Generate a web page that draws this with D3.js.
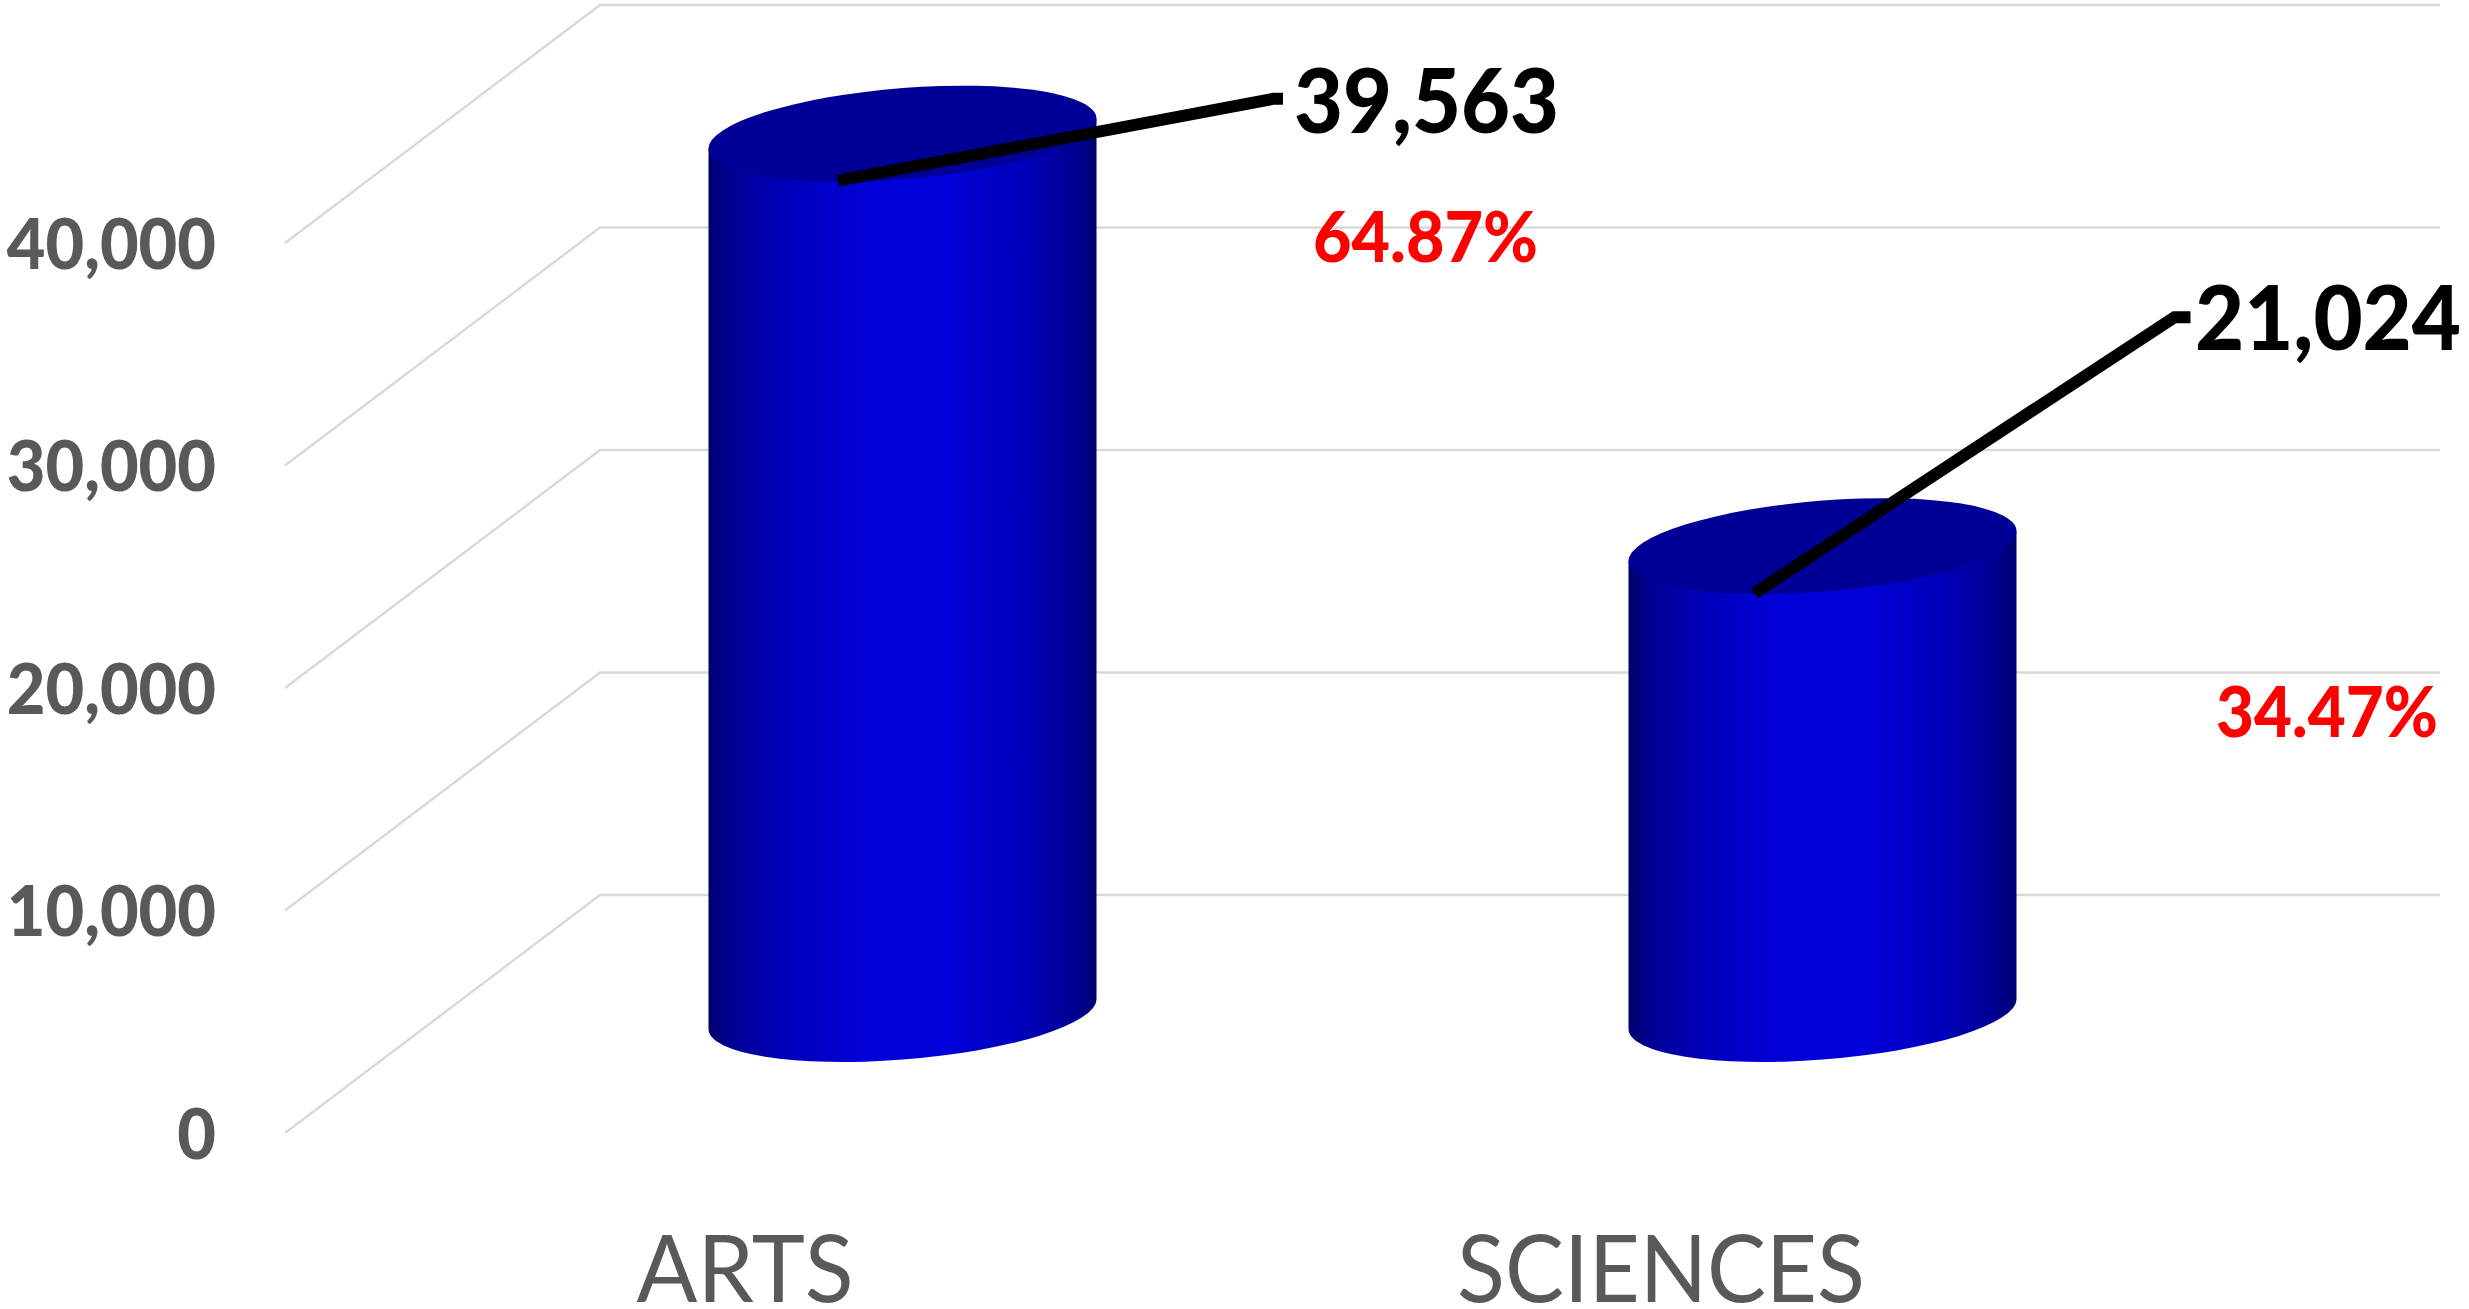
<!DOCTYPE html>
<html>
<head>
<meta charset="utf-8">
<script src="https://cdn.jsdelivr.net/npm/d3@7/dist/d3.min.js"></script>
<style>
html,body{margin:0;padding:0;background:#fff;overflow:hidden}
text{font-family:Lato,"Open Sans",sans-serif}
</style>
</head>
<body>
<svg id="chart" width="2469" height="1309"></svg>
<script>
// Data
const categories = ["ARTS", "SCIENCES"];
const values = [39563, 21024];
const percents = ["64.87%", "34.47%"];
const yTicks = [0, 10000, 20000, 30000, 40000];

// Layout (not data)
const W = 2469, H = 1309;
const plane = {x0: 442.5, x1: 2282.5, y0: 1014, y40k: 124};
const depth = {dx: 157.5, dy: 119};
const cyl = {a: 194, b: 45.6, slope: -15 / 194};
// leader anchors / label offsets relative to each cylinder's top centre
const leaderStart = [[-64.5, 47], [-68, 47]];
const leaderKnee = [[371.5, -35], [352, -229]];
const leaderEnd = [[380.5, -35], [368, -229]];
const valueBase = [[391.5, -1], [372.5, -196]];
const valueWidth = [265, 266];
const pctPos = [[410.5, 128], [393.5, 191]];
const pctWidth = [225, 222];
const catWidth = [217, 408];
const catShift = [0, -4];

const svg = d3.select("#chart");
const defs = svg.append("defs");
const grad = defs.append("linearGradient").attr("id", "side").attr("x1", 0).attr("x2", 1).attr("y1", 0).attr("y2", 0);
[[0, "#00006c"], [0.06, "#000094"], [0.2, "#0000bc"], [0.4, "#0000d8"], [0.62, "#0000d8"], [0.82, "#0000b8"], [0.95, "#000090"], [1, "#000070"]]
  .forEach(s => grad.append("stop").attr("offset", s[0]).attr("stop-color", s[1]));

// Scales
const x = d3.scaleBand().domain(categories).range([plane.x0, plane.x1]);
const y = d3.scaleLinear().domain([0, 40000]).range([plane.y0, plane.y40k]);
const xFront = x.copy().range([plane.x0 - depth.dx, plane.x1 - depth.dx]);
const yFront = y.copy().range([plane.y0 + depth.dy, plane.y40k + depth.dy]);

// Gridlines: floor-depth diagonal + back wall
const gridColor = "#d9d9d9";
const grid = svg.append("g").attr("fill", "none").attr("stroke", gridColor).attr("stroke-width", 2.5);
const gridLine = d3.line();
grid.selectAll("path").data(yTicks).join("path").attr("d", t => gridLine([
  [plane.x0 - depth.dx, y(t) + depth.dy],
  [plane.x0 + depth.dx, y(t) - depth.dy],
  [plane.x1 + depth.dx, y(t) - depth.dy]
]));

// Axes
function squeeze(sel, ratio) {
  sel.each(function () {
    const len = this.getComputedTextLength();
    d3.select(this).attr("textLength", len * ratio).attr("lengthAdjust", "spacingAndGlyphs");
  });
}
const yAxisG = svg.append("g").attr("transform", "translate(216,0)")
  .call(d3.axisLeft(yFront).tickValues(yTicks).tickFormat(d3.format(",")).tickSize(0).tickPadding(0));
yAxisG.select(".domain").remove();
yAxisG.selectAll("text").attr("dy", 25).attr("fill", "#595959").attr("font-size", 70).attr("font-weight", 900)
  .style("font-family", "Lato").call(squeeze, 0.953);

const xAxisG = svg.append("g").attr("transform", "translate(0,1302)")
  .call(d3.axisBottom(xFront).tickSize(0).tickPadding(0));
xAxisG.select(".domain").remove();
xAxisG.selectAll("text").attr("y", 0).attr("dy", 0).attr("fill", "#595959").attr("font-size", 94).attr("font-weight", 400)
  .style("font-family", "Lato")
  .attr("dx", (c, i) => catShift[i])
  .attr("textLength", (c, i) => catWidth[i]).attr("lengthAdjust", "spacingAndGlyphs");

// Cylinders
const bars = svg.append("g").selectAll("g").data(categories).join("g");
const cx = c => x(c) + x.bandwidth() / 2;
const topY = (c, i) => y(values[i]);
const skew = Math.atan(cyl.slope) * 180 / Math.PI;
bars.attr("transform", (c, i) => `translate(${cx(c)},${topY(c, i)}) skewY(${skew})`);
bars.append("path")
  .attr("fill", "url(#side)")
  .attr("d", (c, i) => {
    const h = y(0) - y(values[i]);
    return `M${-cyl.a},0L${-cyl.a},${h}A${cyl.a},${cyl.b} 0 0 0 ${cyl.a},${h}L${cyl.a},0Z`;
  });
bars.append("ellipse").attr("rx", cyl.a).attr("ry", cyl.b).attr("fill", "#000096");

// Leader lines and labels
const leader = d3.line();
svg.append("g").selectAll("path").data(categories).join("path")
  .attr("fill", "none").attr("stroke", "#000").attr("stroke-width", 12).attr("stroke-linejoin", "miter")
  .attr("d", (c, i) => {
    const X = cx(c), Y = topY(c, i);
    return leader([leaderStart[i], leaderKnee[i], leaderEnd[i]].map(p => [X + p[0], Y + p[1]]));
  });

svg.append("g").selectAll("text").data(categories).join("text")
  .attr("x", (c, i) => cx(c) + valueBase[i][0])
  .attr("y", (c, i) => topY(c, i) + valueBase[i][1])
  .attr("font-size", 90).attr("font-weight", 900).attr("fill", "#000")
  .attr("textLength", (c, i) => valueWidth[i]).attr("lengthAdjust", "spacingAndGlyphs")
  .text((c, i) => d3.format(",")(values[i]));

svg.append("g").selectAll("text").data(categories).join("text")
  .attr("x", (c, i) => cx(c) + pctPos[i][0])
  .attr("y", (c, i) => topY(c, i) + pctPos[i][1])
  .attr("font-size", 70).attr("font-weight", 900).attr("fill", "#ff0000")
  .attr("textLength", (c, i) => pctWidth[i]).attr("lengthAdjust", "spacingAndGlyphs")
  .text((c, i) => percents[i]);
</script>
</body>
</html>
